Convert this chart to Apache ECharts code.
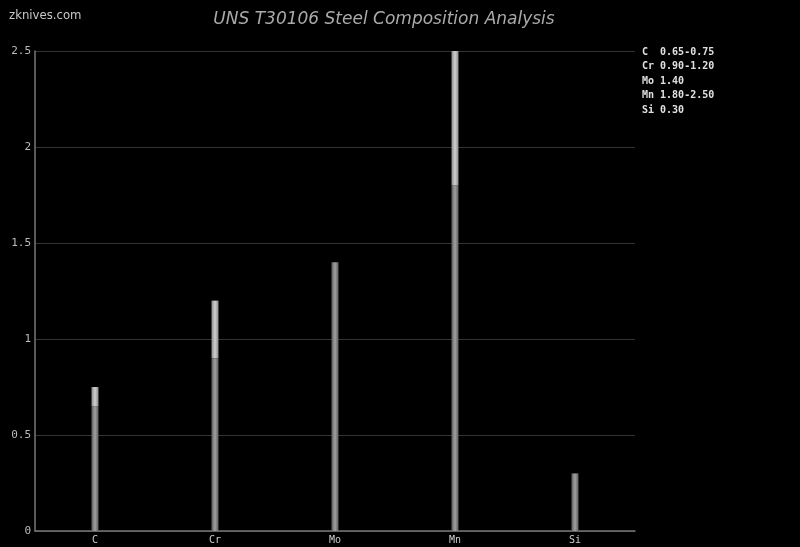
<!DOCTYPE html>
<html><head><meta charset="utf-8">
<script src="https://cdn.jsdelivr.net/npm/echarts@6/dist/echarts.min.js"></script>
<style>html,body{margin:0;padding:0;background:#000;}#c{width:800px;height:547px;}</style>
</head><body><div id="c"></div>
<script>
var categories = ['C', 'Cr', 'Mo', 'Mn', 'Si'];
var minValues = [0.65, 0.90, 1.40, 1.80, 0.30];
var maxValues = [0.75, 1.20, 1.40, 2.50, 0.30];
var legendLines = ['C  0.65-0.75', 'Cr 0.90-1.20', 'Mo 1.40', 'Mn 1.80-2.50', 'Si 0.30'];
var yTicks = [0, 0.5, 1, 1.5, 2, 2.5];

var rangeValues = maxValues.map(function (v, i) { return +(v - minValues[i]).toFixed(2); });

function grad(c1, c2) {
  return new echarts.graphic.LinearGradient(0, 0, 1, 0, [
    {offset: 0, color: c1}, {offset: 0.5, color: c2}, {offset: 1, color: c1}
  ]);
}

var chart = echarts.init(document.getElementById('c'), null, {renderer: 'canvas'});
chart.setOption({
  backgroundColor: '#000',
  animation: false,
  title: {
    text: 'UNS T30106 Steel Composition Analysis',
    left: 379, top: 6, textAlign: 'center',
    textStyle: {color: '#aaa', fontFamily: 'DejaVu Sans', fontStyle: 'italic', fontWeight: 'normal', fontSize: 17}
  },
  graphic: [
    {type: 'text', left: 9, top: 9, style: {text: 'zknives.com', fill: '#c8c8c8', font: '13px "DejaVu Sans Condensed", "DejaVu Sans"'}},
    {type: 'text', left: 642, top: 45, style: {text: legendLines.join('\n'), fill: '#e0e0e0', font: 'bold 10px "DejaVu Sans Mono"', lineHeight: 14.5}}
  ],
  grid: {left: 35, right: 165, top: 51, bottom: 16},
  xAxis: {
    type: 'category', data: categories,
    axisLine: {lineStyle: {color: '#777', width: 1.5}},
    axisTick: {show: false},
    axisLabel: {color: '#ccc', fontFamily: 'DejaVu Sans Mono', fontSize: 10, margin: 4}
  },
  yAxis: {
    type: 'value', min: 0, max: 2.5, interval: 0.5,
    axisLine: {show: true, lineStyle: {color: '#777', width: 1.5}},
    axisTick: {show: false},
    splitLine: {lineStyle: {color: '#333', width: 1}},
    axisLabel: {color: '#bbb', fontFamily: 'DejaVu Sans Mono', fontSize: 11, margin: 4,
      formatter: function (v) { return yTicks.indexOf(v) >= 0 ? String(v) : ''; }}
  },
  series: [
    {type: 'bar', stack: 'a', data: minValues, barWidth: 7,
     itemStyle: {color: grad('#5e5e5e', '#a0a0a0')}},
    {type: 'bar', stack: 'a', data: rangeValues, barWidth: 7,
     itemStyle: {color: grad('#8a8a8a', '#d0d0d0')}}
  ]
});
</script></body></html>
